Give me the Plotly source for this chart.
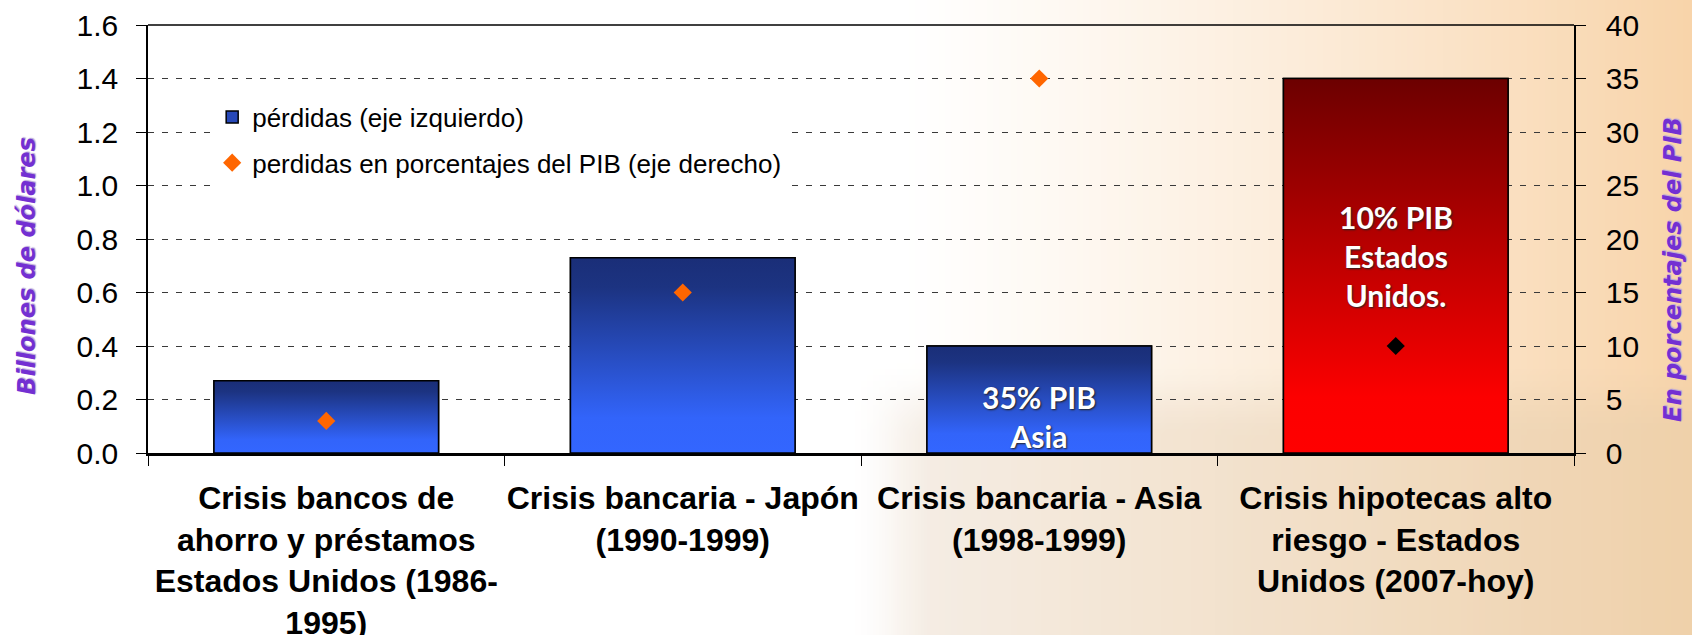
import base64
import struct
import zlib

import plotly.graph_objects as go

# ---------------- data ----------------
categorias = [
    "Crisis bancos de<br>ahorro y préstamos<br>Estados Unidos (1986-<br>1995)",
    "Crisis bancaria - Japón<br>(1990-1999)",
    "Crisis bancaria - Asia<br>(1998-1999)",
    "Crisis hipotecas alto<br>riesgo - Estados<br>Unidos (2007-hoy)",
]
perdidas = [0.27, 0.73, 0.40, 1.40]          # billones de dólares (eje izquierdo)
perdidas_pib = [3, 15, 35, 10]                # % del PIB (eje derecho)
nombre_barras = "pérdidas (eje izquierdo)"
nombre_puntos = "perdidas en porcentajes del PIB (eje derecho)"
titulo_izq = "Billones de dólares"
titulo_der = "En porcentajes del PIB"
notas = ["35% PIB<br>Asia", "10% PIB<br>Estados<br>Unidos."]
nota_idx = [2, 3]
nota_y = [0.135, 0.735]

W, H = 1692, 635
ML, MR, MT, MB = 148, 118, 25, 182
PW, PH = W - ML - MR, H - MT - MB


# ---------------- background gradient image ----------------
def lerp(a, b, t):
    return tuple(int(round(a[i] + (b[i] - a[i]) * t)) for i in range(3))


def clamp(v):
    return max(0.0, min(1.0, v))


def smooth(e0, e1, v):
    t = clamp((v - e0) / (e1 - e0))
    return t * t * (3 - 2 * t)


def bg_png(w, h):
    rows = []
    for j in range(h):
        Y = (j + 0.5) * H / h
        row = bytearray([0])
        for i in range(w):
            X = (i + 0.5) * W / w
            t = clamp((X - 900) / (W - 900)) ** 1.2
            top = lerp((255, 255, 255), (248, 212, 170), t)
            m = smooth(360, 440, Y) * smooth(850, 940, X)
            low = lerp((243, 235, 226), (237, 208, 170), clamp((X - 880) / (W - 880)))
            c = lerp(top, low, m * 0.85)
            row.extend(c)
        rows.append(bytes(row))
    raw = b"".join(rows)

    def chunk(tag, data):
        return (struct.pack(">I", len(data)) + tag + data
                + struct.pack(">I", zlib.crc32(tag + data) & 0xFFFFFFFF))

    png = (b"\x89PNG\r\n\x1a\n"
           + chunk(b"IHDR", struct.pack(">IIBBBBB", w, h, 8, 2, 0, 0, 0))
           + chunk(b"IDAT", zlib.compress(raw, 9))
           + chunk(b"IEND", b""))
    return "data:image/png;base64," + base64.b64encode(png).decode()


fig = go.Figure()

bw = 0.63
x_idx = list(range(len(perdidas)))

# base bars (give the legend swatch), gradient fills drawn on top
fig.add_trace(go.Bar(
    x=x_idx, y=perdidas, width=bw, name=nombre_barras, legendgroup="g1",
    marker=dict(color="#2748b8", line=dict(color="black", width=1.5)),
    hoverinfo="skip",
))

blue_scale = [[0, "#3366ff"], [0.18, "#3264fa"], [0.85, "#1c3381"], [1, "#1a2e78"]]
red_scale = [[0, "#ff0000"], [0.15, "#fc0000"], [1, "#6c0000"]]
for i, v in enumerate(perdidas):
    x0, x1 = i - bw / 2, i + bw / 2
    fig.add_trace(go.Scatter(
        x=[x0, x0, x1, x1, x0], y=[0, v, v, 0, 0],
        fill="toself", mode="lines",
        line=dict(color="black", width=1.5),
        fillgradient=dict(type="vertical",
                          colorscale=red_scale if i == 3 else blue_scale),
        showlegend=False, hoverinfo="skip", legendgroup="g1",
    ))

# ---------------- diamonds ----------------
fig.add_trace(go.Scatter(
    x=x_idx, y=perdidas_pib, yaxis="y2",
    mode="markers", name=nombre_puntos, legendgroup="g2",
    marker=dict(symbol="diamond", size=14,
                color=["#ff6600", "#ff6600", "#ff6600", "#000000"]),
))

# ---------------- annotations in bars ----------------
for k, txt in enumerate(notas):
    fig.add_annotation(
        x=nota_idx[k], y=nota_y[k], xref="x", yref="y", text=txt,
        showarrow=False,
        font=dict(family="Lato", size=30, color="white", weight="bold",
                  shadow="1px 1px 2px #222"),
    )

# ---------------- axis titles ----------------
fig.add_annotation(
    x=-0.0849, y=0.437, xref="paper", yref="paper", text=titulo_izq,
    textangle=-90, showarrow=False, xanchor="center", yanchor="middle",
    font=dict(family="DejaVu Sans", size=24, color="#7330d2", weight="bold",
              style="italic", shadow="1px 1px 1px #b9a6d8"),
)
fig.add_annotation(
    x=1.0695, y=0.428, xref="paper", yref="paper", text=titulo_der,
    textangle=-90, showarrow=False, xanchor="center", yanchor="middle",
    font=dict(family="DejaVu Sans", size=24, color="#7330d2", weight="bold",
              style="italic", shadow="1px 1px 1px #b9a6d8"),
)

fig.update_layout(
    width=W, height=H,
    margin=dict(l=ML, r=MR, t=MT, b=MB, pad=0, autoexpand=False),
    paper_bgcolor="white",
    plot_bgcolor="rgba(0,0,0,0)",
    font=dict(family="Liberation Sans, Arial", color="black"),
    showlegend=True,
    barmode="overlay",
    legend=dict(
        x=0.045, y=0.84, xanchor="left", yanchor="top",
        bgcolor="white", borderwidth=0,
        font=dict(family="Liberation Sans, Arial", size=26, color="black"),
        traceorder="grouped", tracegroupgap=9,
    ),
    images=[dict(
        source=bg_png(282, 106), xref="paper", yref="paper",
        x=-ML / PW, y=1 + MT / PH, sizex=W / PW, sizey=H / PH,
        xanchor="left", yanchor="top", sizing="stretch", layer="below",
    )],
    xaxis=dict(
        range=[-0.5, 3.5], tickvals=x_idx, ticktext=categorias,
        ticks="", showgrid=False, zeroline=False, automargin=False,
        showline=True, linecolor="black", linewidth=2.5,
        tickfont=dict(family="Liberation Sans, Arial", size=32, weight="bold"),
        ticklabelstandoff=15,
        minor=dict(tick0=-0.5, dtick=1, ticks="outside", ticklen=10,
                   tickcolor="black", tickwidth=1, showgrid=False),
    ),
    yaxis=dict(
        range=[0, 1.6], dtick=0.2, tickformat=".1f", automargin=False,
        ticks="outside", ticklen=10, tickcolor="black", tickwidth=1,
        showline=True, linecolor="black", linewidth=1.5,
        showgrid=True, gridcolor="#3a3a3a", gridwidth=1, griddash="6px,8px",
        zeroline=False,
        tickfont=dict(family="Liberation Sans, Arial", size=30),
        ticklabelstandoff=12,
    ),
    yaxis2=dict(
        range=[0, 40], dtick=5, overlaying="y", side="right", automargin=False,
        ticks="outside", ticklen=10, tickcolor="black", tickwidth=1,
        showline=True, linecolor="black", linewidth=1.5,
        showgrid=False, zeroline=False,
        tickfont=dict(family="Liberation Sans, Arial", size=30),
        ticklabelstandoff=14,
    ),
    shapes=[dict(type="line", xref="paper", yref="paper", x0=0, x1=1, y0=1, y1=1,
                 line=dict(color="black", width=1.5))],
)

fig.write_html(
    "out.html",
    config={"displayModeBar": False},
    post_script="document.body.style.margin='0';document.body.style.overflow='hidden';",
)
